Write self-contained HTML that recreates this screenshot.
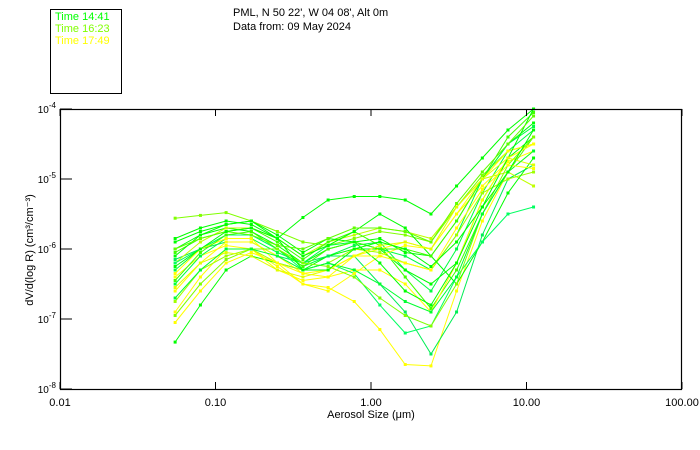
<!DOCTYPE html>
<html><head><meta charset="utf-8"><style>
body{margin:0;background:#fff;width:700px;height:450px;overflow:hidden}
svg{display:block;font-family:"Liberation Sans",sans-serif}
</style></head><body>
<svg id="chart" width="700" height="450">
<rect x="0" y="0" width="700" height="450" fill="#fff"/>
<g>
<rect x="50.5" y="9.5" width="71" height="84" fill="none" stroke="#000" stroke-width="1"/>
<text x="55" y="20" font-size="11" fill="#00ff00">Time 14:41</text>
<text x="55" y="32" font-size="11" fill="#80ff00">Time 16:23</text>
<text x="55" y="44" font-size="11" fill="#ffff00">Time 17:49</text>
</g>
<text x="233" y="16" font-size="11">PML, N 50 22', W 04 08', Alt 0m</text>
<text x="233" y="30" font-size="11">Data from: 09 May 2024</text>
<text transform="translate(33,250) rotate(-90)" text-anchor="middle" font-size="11">dV/d(log R) (cm³/cm⁻³)</text>
<text x="371" y="418" text-anchor="middle" font-size="11">Aerosol Size (μm)</text>
<g id="series"></g>
<g id="axes"></g>
</svg>
<script>
const sizes=[0.055,0.08,0.117,0.17,0.25,0.365,0.53,0.78,1.14,1.66,2.43,3.55,5.2,7.6,11.1];
const xTicks=[0.01,0.1,1,10,100];
const xTickLabels=["0.01","0.10","1.00","10.00","100.00"];
const yTicks=[-8,-7,-6,-5,-4];
const yTickLabels=["-8","-7","-6","-5","-4"];
const seriesColors=["#00ff00","#00ff40","#80ff00","#00ff00","#ffff00","#00ff00","#00ee55","#ffff00","#c0ff00","#00ff40","#40ff00","#ffff00","#a0ff00","#00ff00","#00ff60","#ffff00","#40ff00","#80ff00","#00ff00","#e0ff00","#00ff30","#60ff00","#ffff00","#00ff00"];
const s1=[-6.0,-5.8,-5.7,-5.75,-5.95,-6.2,-6.0,-5.9,-5.85,-6.05,-6.1,-5.6,-5.0,-4.5,-4.2];
const s2=[-6.3,-6.0,-5.8,-5.8,-6.0,-6.25,-6.1,-5.95,-5.9,-6.3,-6.6,-6.0,-5.2,-4.6,-4.3];
const s3=[-5.56,-5.52,-5.48,-5.6,-5.75,-5.9,-5.95,-5.85,-5.75,-5.8,-5.9,-5.4,-4.95,-4.6,-4.5];
const s4=[-5.9,-5.75,-5.65,-5.6,-5.85,-5.55,-5.3,-5.25,-5.25,-5.3,-5.5,-5.1,-4.7,-4.3,-4.0];
const s5=[-6.4,-6.1,-5.95,-6.0,-6.25,-6.5,-6.55,-6.75,-7.15,-7.65,-7.67,-6.6,-5.6,-4.9,-4.6];
const s6=[-7.33,-6.8,-6.3,-6.1,-6.2,-6.3,-6.1,-6.0,-6.0,-6.3,-6.5,-6.2,-5.3,-4.7,-4.4];
const s7=[-6.15,-6.0,-5.9,-5.9,-6.1,-6.2,-6.1,-6.1,-6.5,-6.9,-7.5,-6.9,-5.8,-5.0,-4.8];
const s8=[-6.6,-6.2,-5.9,-5.9,-6.1,-6.35,-6.4,-6.1,-6.0,-5.9,-6.0,-5.5,-5.1,-4.75,-4.6];
const s9=[-6.2,-5.9,-5.7,-5.7,-5.85,-6.1,-5.9,-5.8,-5.7,-5.75,-5.85,-5.4,-5.0,-4.9,-5.1];
const s10=[-6.5,-6.1,-5.85,-5.85,-6.05,-6.2,-5.95,-5.9,-6.0,-6.1,-6.3,-5.8,-5.0,-4.5,-4.25];
const s11=[-6.05,-5.85,-5.75,-5.7,-5.9,-6.15,-5.9,-5.75,-5.95,-6.4,-6.85,-6.3,-5.5,-4.9,-4.4];
const s12=[-6.9,-6.4,-6.0,-6.0,-6.3,-6.45,-6.4,-6.3,-6.3,-6.5,-6.9,-6.2,-5.3,-4.7,-4.5];
const s13=[-6.75,-6.3,-6.1,-6.0,-6.2,-6.3,-6.2,-6.0,-6.05,-6.2,-6.3,-5.8,-5.2,-5.0,-4.9];
const s14=[-5.85,-5.7,-5.6,-5.65,-5.85,-6.1,-5.95,-5.75,-5.5,-5.7,-6.1,-6.5,-5.9,-5.2,-4.7];
const s15=[-6.2,-6.0,-5.8,-5.8,-6.0,-6.3,-6.2,-6.35,-6.8,-7.2,-7.1,-6.4,-5.9,-5.5,-5.4];
const s16=[-6.35,-6.0,-5.85,-5.85,-6.2,-6.5,-6.6,-6.35,-6.1,-5.95,-6.0,-5.5,-5.0,-4.6,-4.5];
const s17=[-6.45,-6.05,-5.8,-5.75,-6.0,-6.25,-6.0,-5.9,-6.0,-6.0,-6.1,-5.6,-5.0,-4.4,-4.05];
const s18=[-6.95,-6.5,-6.15,-6.0,-6.0,-6.2,-6.25,-6.4,-6.7,-6.95,-7.1,-6.5,-5.5,-4.8,-4.4];
const s19=[-6.1,-5.8,-5.65,-5.6,-5.8,-6.05,-5.85,-5.9,-6.2,-6.6,-6.8,-6.2,-5.4,-4.7,-4.0];
const s20=[-6.55,-6.2,-6.05,-6.1,-6.3,-6.4,-6.3,-6.1,-5.95,-5.9,-6.0,-5.4,-5.0,-4.7,-4.8];
const s21=[-6.7,-6.3,-6.0,-6.0,-6.1,-6.3,-6.2,-6.3,-6.5,-6.75,-6.9,-6.4,-5.5,-4.9,-4.6];
const s22=[-6.0,-5.85,-5.75,-5.8,-5.95,-6.0,-5.85,-5.7,-5.7,-5.75,-5.9,-5.35,-4.9,-4.5,-4.1];
const s23=[-7.05,-6.6,-6.2,-6.05,-6.2,-6.35,-6.3,-6.1,-6.1,-6.2,-6.3,-5.7,-5.15,-4.8,-4.85];
const s24=[-6.25,-6.0,-5.75,-5.7,-5.85,-6.3,-6.3,-6.0,-5.9,-6.0,-6.25,-5.9,-5.4,-4.9,-4.3];
const seriesData=[s1,s2,s3,s4,s5,s6,s7,s8,s9,s10,s11,s12,s13,s14,s15,s16,s17,s18,s19,s20,s21,s22,s23,s24];

const NS="http://www.w3.org/2000/svg";
const X0=60,X1=682,Y0=389,Y1=109;
function xScale(v){return X0+(Math.log10(v)+2)/4*(X1-X0);}
function yScale(e){return Y0-(e+8)/4*(Y0-Y1);}
function mk(tag,attrs,parent){const el=document.createElementNS(NS,tag);for(const k in attrs)el.setAttribute(k,attrs[k]);parent.appendChild(el);return el;}

const sg=document.getElementById('series');
seriesData.forEach((vals,i)=>{
  const pts=vals.map((v,j)=>xScale(sizes[j]).toFixed(1)+','+yScale(v).toFixed(1)).join(' ');
  const pl=mk('polyline',{points:pts,fill:'none',stroke:seriesColors[i],'stroke-width':1},sg);
  
  
  vals.forEach((v,j)=>{
    const r=mk('rect',{x:xScale(sizes[j])-1.5,y:yScale(v)-1.5,width:3,height:3,fill:seriesColors[i]},sg);
    
    
  });
});

const ag=document.getElementById('axes');
const frame=mk('rect',{x:X0+0.5,y:Y1+0.5,width:X1-X0-1,height:Y0-Y1,fill:'none',stroke:'#000','stroke-width':1.2},ag);


xTicks.forEach((t,i)=>{
  const x=xScale(t);
  const a=mk('line',{x1:x,y1:Y0,x2:x,y2:Y0-7,stroke:'#000'},ag);
  
  
  const b=mk('line',{x1:x,y1:Y1,x2:x,y2:Y1+7,stroke:'#000'},ag);
  
  
  const tx=mk('text',{x:x,y:Y0+17,'text-anchor':'middle','font-size':11},ag);
  tx.textContent=xTickLabels[i];
  
  
});
yTicks.forEach((t,i)=>{
  const y=yScale(t);
  const a=mk('line',{x1:X0,y1:y,x2:X0+12,y2:y,stroke:'#000'},ag);
  
  
  const tx=mk('text',{x:X0-4,y:y+4,'text-anchor':'end','font-size':10},ag);
  
  
  const b=document.createElementNS(NS,'tspan');b.textContent='10';tx.appendChild(b);
  const s=document.createElementNS(NS,'tspan');s.setAttribute('dy','-5');s.setAttribute('font-size','8');s.textContent=yTickLabels[i];tx.appendChild(s);
});
</script>
</body></html>
